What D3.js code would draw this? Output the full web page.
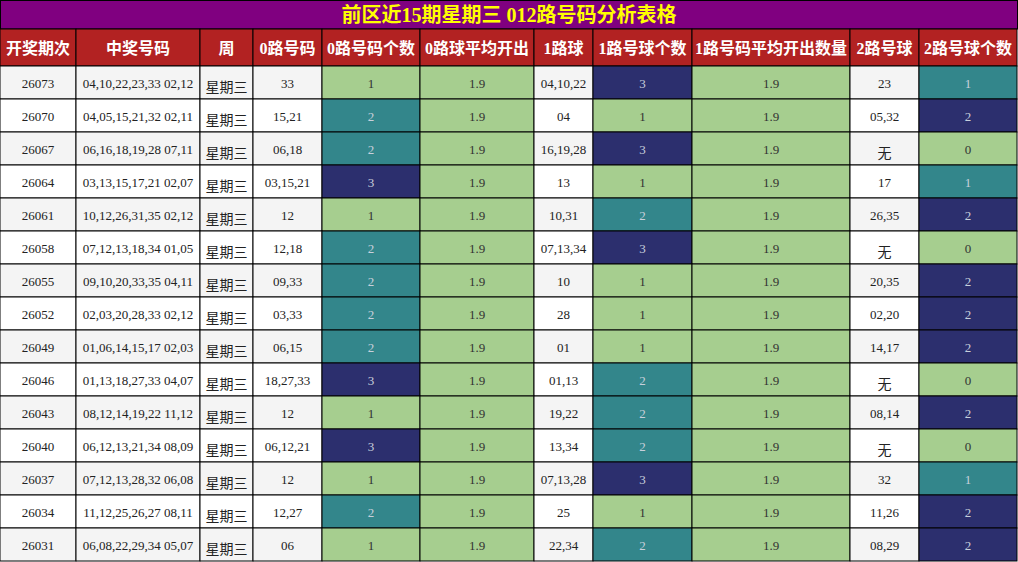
<!DOCTYPE html><html><head><meta charset="utf-8"><script src="https://cdn.jsdelivr.net/npm/d3@7"></script>
<style>body{margin:0;background:#fff}</style></head><body><svg id="c" width="1018" height="562"></svg>
<script>
const title="前区近15期星期三 012路号码分析表格";
const headers=["开奖期次","中奖号码","周","0路号码","0路号码个数","0路球平均开出","1路球","1路号球个数","1路号码平均开出数量","2路号球","2路号球个数"];
const periods=["26073","26070","26067","26064","26061","26058","26055","26052","26049","26046","26043","26040","26037","26034","26031"];
const numbers=["04,10,22,23,33 02,12","04,05,15,21,32 02,11","06,16,18,19,28 07,11","03,13,15,17,21 02,07","10,12,26,31,35 02,12","07,12,13,18,34 01,05","09,10,20,33,35 04,11","02,03,20,28,33 02,12","01,06,14,15,17 02,03","01,13,18,27,33 04,07","08,12,14,19,22 11,12","06,12,13,21,34 08,09","07,12,13,28,32 06,08","11,12,25,26,27 08,11","06,08,22,29,34 05,07"];
const road0=["33","15,21","06,18","03,15,21","12","12,18","09,33","03,33","06,15","18,27,33","12","06,12,21","12","12,27","06"];
const count0=[1,2,2,3,1,2,2,2,2,3,1,3,1,2,1];
const avg0=[1.9,1.9,1.9,1.9,1.9,1.9,1.9,1.9,1.9,1.9,1.9,1.9,1.9,1.9,1.9];
const road1=["04,10,22","04","16,19,28","13","10,31","07,13,34","10","28","01","01,13","19,22","13,34","07,13,28","25","22,34"];
const count1=[3,1,3,1,2,3,1,1,1,2,2,2,3,1,2];
const avg1=[1.9,1.9,1.9,1.9,1.9,1.9,1.9,1.9,1.9,1.9,1.9,1.9,1.9,1.9,1.9];
const road2=["23","05,32","无","17","26,35","无","20,35","02,20","14,17","无","08,14","无","32","11,26","08,29"];
const count2=[1,2,0,1,2,0,2,2,2,0,2,0,1,2,2];

const colX=[0,76,200,253,322,420,534,593,692,850,919,1017];
const svg=d3.select("#c");
const serif="'Liberation Serif','DejaVu Serif',serif", cjk="'Noto Sans CJK SC',sans-serif";
const x=d3.scaleOrdinal().domain(d3.range(12)).range(colX);
const y=d3.scaleBand().domain(d3.range(15)).range([66,561]);
const cntFill=v=>v===3?"#2c2f6e":v===2?"#33868b":"#a6ce8f";
const cntText=v=>v>=2||v===1&&false?"#c8d0dc":"#222";
svg.append("rect").attr("x",0.5).attr("y",0.5).attr("width",1017).attr("height",28.5).attr("fill","#800080").attr("stroke","#000");
svg.append("text").attr("x",509).attr("y",22).attr("text-anchor","middle").attr("fill","#ffff00").attr("font-family",serif+","+cjk).attr("font-weight","bold").attr("font-size",20).text(title);
headers.forEach((h,i)=>{
 svg.append("rect").attr("x",x(i)).attr("y",29).attr("width",x(i+1)-x(i)).attr("height",37).attr("fill","#b22222").attr("stroke","#000");
 svg.append("text").attr("x",(x(i)+x(i+1))/2).attr("y",54).attr("text-anchor","middle").attr("fill","#fff").attr("font-weight","bold").attr("font-size",16).attr("font-family",serif+","+cjk).text(h);
});
periods.forEach((p,r)=>{
 const bg=r%2===0?"#f4f4f4":"#ffffff";
 const cells=[
  [p,bg,"#222",serif],[numbers[r],bg,"#222",serif],["星期三",bg,"#222",cjk],[road0[r],bg,"#222",serif],
  [count0[r],cntFill(count0[r]),count0[r]>=2?"#c8d0dc":"#333",serif],[avg0[r],"#a6ce8f","#333",serif],
  [road1[r],bg,"#222",serif],[count1[r],cntFill(count1[r]),count1[r]>=2?"#c8d0dc":"#333",serif],
  [avg1[r],"#a6ce8f","#333",serif],[road2[r],bg,"#222",road2[r]==="无"?cjk:serif],
  [count2[r],cntFill(count2[r]),count2[r]>=1?"#c8d0dc":"#333",serif]];
 // count2: 1->teal, 2->navy, 0->green
 cells[10][1]=count2[r]===2?"#2c2f6e":count2[r]===1?"#33868b":"#a6ce8f";
 cells.forEach((c,i)=>{
  svg.append("rect").attr("x",x(i)).attr("y",y(r)).attr("width",x(i+1)-x(i)).attr("height",y.bandwidth()).attr("fill",c[1]).attr("stroke","#000");
  const isC=c[3]===cjk;
  svg.append("text").attr("x",(x(i)+x(i+1))/2).attr("y",y(r)+y.bandwidth()/2+(isC?9:5)).attr("text-anchor","middle").attr("fill",c[2]).attr("font-family",c[3]).attr("font-size",isC?14:13).text(c[0]);
 });
});
</script></body></html>
